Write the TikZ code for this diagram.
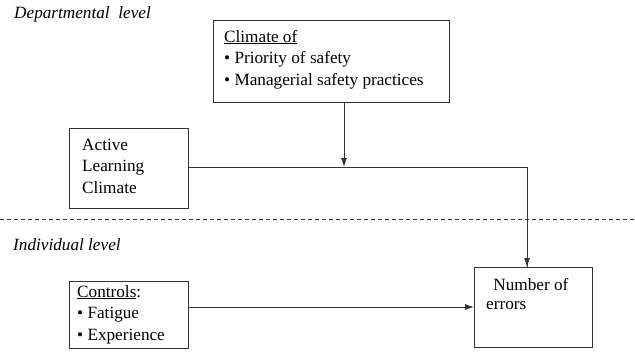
\documentclass[tikz,border=0pt]{standalone}
\usepackage{fontspec}
\setmainfont{Liberation Serif}
\usetikzlibrary{arrows.meta}
\begin{document}
\begin{tikzpicture}[x=1pt,y=-1pt,
  box/.style={draw=black!80, line width=0.9pt, inner sep=0pt},
  txt/.style={inner sep=0pt, anchor=base west, align=left, font=\fontsize{17.2}{21.7}\selectfont},
  lvl/.style={inner sep=0pt, anchor=base west, font=\fontsize{17.2}{18}\selectfont\itshape},
  conn/.style={draw=black!80, line width=0.9pt},
  arr/.style={conn, -{Latex[length=9pt,width=6pt]}}]
\useasboundingbox (0,0) rectangle (635,360);
% level labels
\node[lvl] (dep) at (14,18) {Departmental\ \ level};
\node[lvl] (ind) at (13,250) {Individual level};
% dashed separator
\coordinate (dl) at (0,219);
\coordinate (dr) at (635,219);
\draw[conn, dashed, dash pattern=on 4pt off 3pt] (dl) -- (dr);
% boxes (text nodes anchored at the baseline of their last line)
\node[box, minimum width=236, minimum height=82, anchor=north west] (clim) at (213,20) {};
\node[txt] (climt) at (224,85.4) {\underline{Climate of}\\\textbullet{} Priority of safety\\\textbullet{} Managerial safety practices};
\node[box, minimum width=119, minimum height=80, anchor=north west] (alc) at (69,128) {};
\node[txt] (alct) at (82,193.4) {Active\\Learning\\Climate};
\node[box, minimum width=119, minimum height=67, anchor=north west] (ctrl) at (69,281) {};
\node[txt] (ctrlt) at (77,340.4) {\underline{Controls}:\\\textbullet{} Fatigue\\\textbullet{} Experience};
\node[box, minimum width=118, minimum height=80, anchor=north west] (num) at (474,267) {};
\node[txt, font=\fontsize{17.2}{19}\selectfont] (numt) at (486,309) {\ \,Number of\\errors};
% connectors
\coordinate (corner) at (527,167);
\coordinate (mid) at (344,167);
\draw[conn] (alc.east |- mid) -- (corner) -- (num.north -| corner);
\draw[arr] (num.north -| corner) ++(0,-20) -- (num.north -| corner);
\draw[arr] (clim.south -| mid) -- (mid);
\draw[arr] (ctrl.east |- 0,307) -- (num.west |- 0,307);
\end{tikzpicture}
\end{document}
